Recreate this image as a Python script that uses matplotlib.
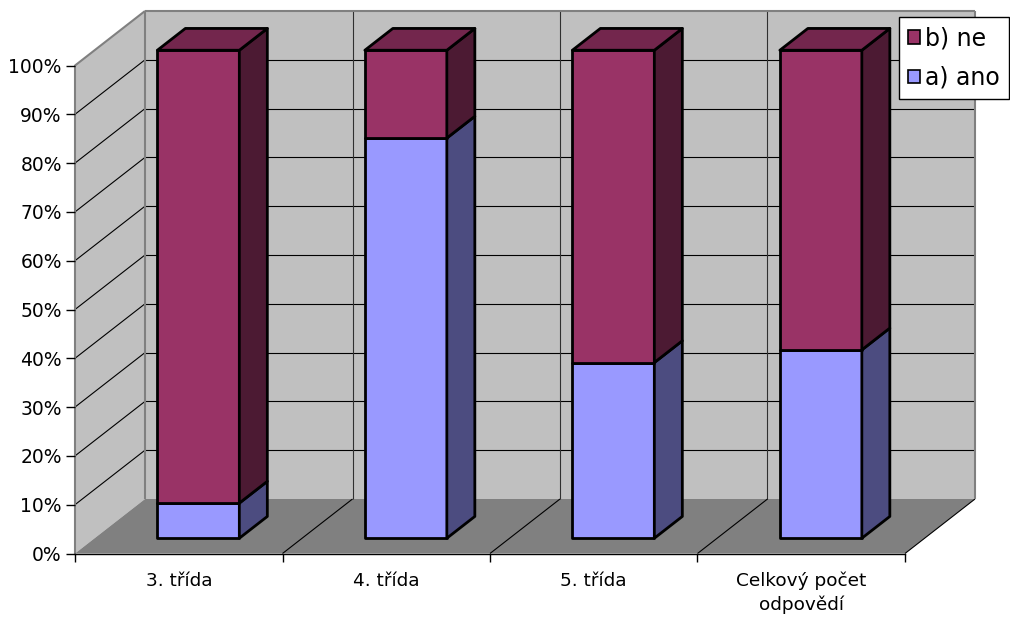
import matplotlib
matplotlib.use("Agg")
import matplotlib.pyplot as plt
from matplotlib.patches import Polygon, Patch

categories = ["3. třída", "4. třída", "5. třída", "Celkový počet\nodpovědí"]
ano = [7.2, 82.0, 36.0, 38.6]
ne = [100 - v for v in ano]
series_labels = ["a) ano", "b) ne"]
ytick_vals = list(range(0, 101, 10))

W, H = 1010, 618
fig = plt.figure(figsize=(W / 100, H / 100), dpi=100)
fig.patch.set_facecolor("white")
ax = fig.add_axes([75 / W, (H - 553.5) / H, 830 / W, 488 / H])
ax.set_xlim(-0.5, 3.5)
ax.set_ylim(0, 100)
ax.patch.set_visible(False)

# oblique depth projection (data units for full depth)
DX = 70 / 207.5
DY = 54.5 / 4.88


def P(x, y, d):
    return (x + d * DX, y + d * DY)


def poly(pts, fc, ec="none", lw=0, z=1):
    ax.add_patch(Polygon(pts, closed=True, facecolor=fc, edgecolor=ec,
                         linewidth=lw, zorder=z, clip_on=False,
                         joinstyle="round"))


def line(p0, p1, color, lw, z=2):
    ax.plot([p0[0], p1[0]], [p0[1], p1[1]], color=color, lw=lw, zorder=z,
            clip_on=False, solid_capstyle="butt")


x0, x1 = -0.5, 3.5
wall = "#C0C0C0"
floor = "#808080"
border = "#808080"

# walls and floor
poly([P(x0, 0, 1), P(x1, 0, 1), P(x1, 100, 1), P(x0, 100, 1)], wall, z=0.5)
poly([P(x0, 0, 0), P(x0, 100, 0), P(x0, 100, 1), P(x0, 0, 1)], wall, z=0.5)
poly([P(x0, 0, 0), P(x1, 0, 0), P(x1, 0, 1), P(x0, 0, 1)], floor, z=0.6)

# gridlines
for v in ytick_vals[1:-1]:
    line(P(x0, v, 0), P(x0, v, 1), "black", 0.8, z=0.8)
    line(P(x0, v, 1), P(x1, v, 1), "black", 0.8, z=0.8)
for b in [0.5, 1.5, 2.5]:
    line(P(b, 0, 1), P(b, 100, 1), "#303030", 0.8, z=0.8)
for b in [0.5, 1.5, 2.5, 3.5]:
    line(P(b, 0, 0), P(b, 0, 1), "black", 0.8, z=0.8)

# wall borders
line(P(x0, 100, 0), P(x0, 100, 1), border, 1.5, z=0.9)
line(P(x0, 100, 1), P(x1, 100, 1), border, 1.5, z=0.9)
line(P(x0, 0, 1), P(x0, 100, 1), border, 1.5, z=0.9)
line(P(x1, 0, 1), P(x1, 100, 1), border, 1.5, z=0.9)

# bars
bw = 0.395
f0, f1 = 0.28, 0.68
cols = {
    "ano": ("#9999FF", "#4C4C80", "#7373BF"),
    "ne": ("#993366", "#4C1A33", "#73264D"),
}
ec, elw = "black", 2.0
for i in range(len(categories)):
    l, r = i - bw / 2, i + bw / 2
    segs = [("ano", 0, ano[i]), ("ne", ano[i], ano[i] + ne[i])]
    for k, (name, y0, y1) in enumerate(segs):
        front, side, top = cols[name]
        z = 3 + i * 0.1 + k * 0.01
        poly([P(l, y0, f0), P(r, y0, f0), P(r, y1, f0), P(l, y1, f0)], front, ec, elw, z)
        poly([P(r, y0, f0), P(r, y0, f1), P(r, y1, f1), P(r, y1, f0)], side, ec, elw, z)
        if k == len(segs) - 1:
            poly([P(l, y1, f0), P(r, y1, f0), P(r, y1, f1), P(l, y1, f1)], top, ec, elw, z)

# axes styling
for s in ["top", "right"]:
    ax.spines[s].set_visible(False)
ax.spines["left"].set_color(border)
ax.spines["left"].set_linewidth(1.5)
ax.spines["bottom"].set_color("black")
ax.spines["bottom"].set_linewidth(1.0)
ax.spines["left"].set_zorder(0.95)
ax.spines["bottom"].set_zorder(0.95)

ax.set_yticks(ytick_vals)
ax.set_yticklabels([f"{v}%" for v in ytick_vals])
ax.tick_params(axis="y", direction="out", length=6.5, width=1, color="black",
               labelsize=13.5, pad=3)
ax.set_xticks([-0.5, 0.5, 1.5, 2.5, 3.5])
ax.set_xticklabels([])
ax.tick_params(axis="x", which="major", direction="out", length=6, width=1, color="black")
ax.set_xticks(range(len(categories)), minor=True)
ax.set_xticklabels(categories, minor=True)
ax.tick_params(axis="x", which="minor", length=0, labelsize=13.3, pad=13)
for t in ax.get_xticklabels(minor=True):
    t.set_linespacing(1.35)

handles = [Patch(facecolor=cols["ne"][0], edgecolor="black", lw=1.2),
           Patch(facecolor=cols["ano"][0], edgecolor="black", lw=1.2)]
leg = fig.legend(handles, [series_labels[1], series_labels[0]],
                 loc="upper left", bbox_to_anchor=(899 / W, 1 - 17 / H),
                 borderaxespad=0, frameon=True, fancybox=False, framealpha=1,
                 fontsize=17, handlelength=0.5, handleheight=0.5,
                 handletextpad=0.2, borderpad=0.4, labelspacing=0.65)
leg.get_frame().set_edgecolor("black")
leg.get_frame().set_facecolor("white")
leg.get_frame().set_linewidth(1.0)

fig.savefig("out.png", dpi=100)
